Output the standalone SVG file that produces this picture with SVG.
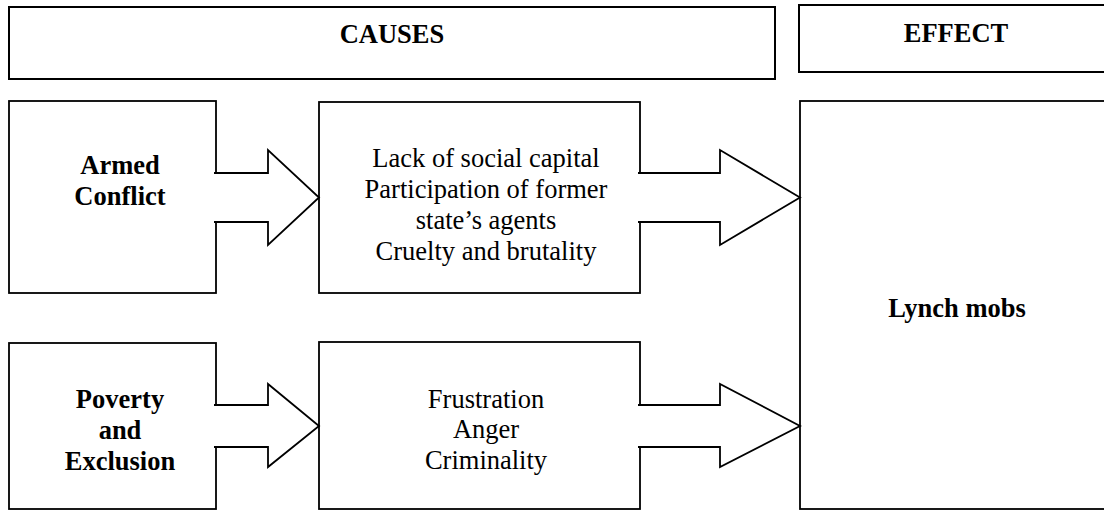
<svg xmlns="http://www.w3.org/2000/svg" width="1104" height="510" viewBox="0 0 1104 510">
<style>
.box{fill:#fff;stroke:#000;stroke-width:1.8}
.hdr{fill:#fff;stroke:#000;stroke-width:2}
.arr{fill:#fff;stroke:#000;stroke-width:1.8;stroke-linejoin:miter}
.b{font-family:"Liberation Serif","Times New Roman",serif;font-weight:bold;font-size:26.5px;text-anchor:middle;fill:#000}
.r{font-family:"Liberation Serif","Times New Roman",serif;font-size:26.5px;text-anchor:middle;fill:#000}
</style>
<rect width="1104" height="510" fill="#fff"/>
<g id="causes-header">
<rect class="hdr" x="9" y="7" width="766" height="72"/>
<text class="b" x="392" y="43">CAUSES</text>
</g>
<g id="effect-header">
<rect class="hdr" x="799" y="5" width="320" height="67"/>
<text class="b" x="956" y="42">EFFECT</text>
</g>
<g id="armed-conflict">
<rect class="box" x="9" y="101" width="207" height="192"/>
<text class="b" x="120" y="174">Armed</text>
<text class="b" x="120" y="205">Conflict</text>
</g>
<g id="poverty-exclusion">
<rect class="box" x="9" y="343" width="207" height="166"/>
<text class="b" x="120" y="408">Poverty</text>
<text class="b" x="120" y="439">and</text>
<text class="b" x="120" y="470">Exclusion</text>
</g>
<g id="social-factors">
<rect class="box" x="319" y="102" width="321" height="191"/>
<text class="r" x="486" y="167">Lack of social capital</text>
<text class="r" x="486" y="198">Participation of former</text>
<text class="r" x="486" y="229">state’s agents</text>
<text class="r" x="486" y="260">Cruelty and brutality</text>
</g>
<g id="psych-factors">
<rect class="box" x="319" y="342" width="321" height="167"/>
<text class="r" x="486" y="408">Frustration</text>
<text class="r" x="486" y="438">Anger</text>
<text class="r" x="486" y="469">Criminality</text>
</g>
<g id="lynch-mobs">
<rect class="box" x="800" y="101" width="320" height="408"/>
<text class="b" x="957" y="317">Lynch mobs</text>
</g>
<g id="connectors">
<path class="arr" d="M214,173 H268 V150 L319,197.5 L268,245 V222 H214"/>
<path class="arr" d="M638,173 H720 V150 L800,197.5 L720,245 V222 H638"/>
<path class="arr" d="M214,405 H268 V384 L319,426 L268,467 V447 H214"/>
<path class="arr" d="M638,405 H720 V384 L800,426 L720,467 V447 H638"/>
</g>
</svg>
